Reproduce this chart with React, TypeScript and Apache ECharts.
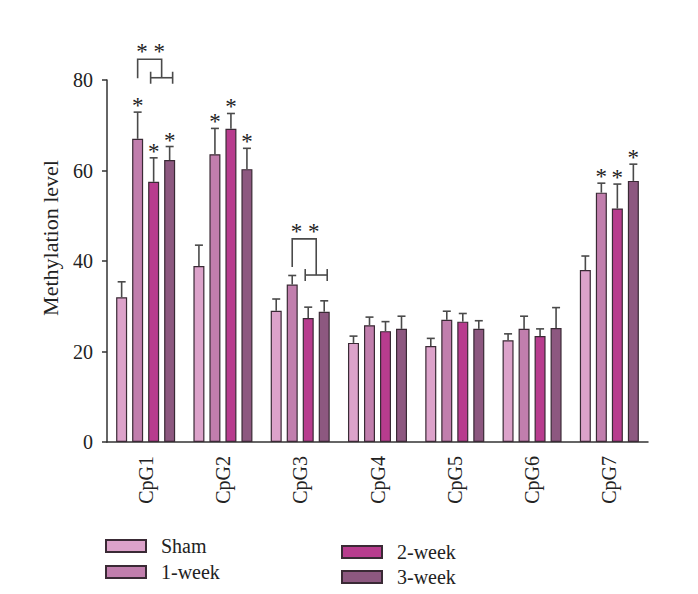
import React, { useEffect, useRef } from "react";
import * as echarts from "echarts";

const categories = ["CpG1", "CpG2", "CpG3", "CpG4", "CpG5", "CpG6", "CpG7"];
const seriesNames = ["Sham", "1-week", "2-week", "3-week"];
const sham = [32.0, 38.9, 29.0, 21.9, 21.2, 22.5, 38.0];
const shamErr = [3.4, 4.6, 2.6, 1.5, 1.7, 1.4, 3.1];
const week1 = [67.0, 63.6, 34.8, 25.8, 27.0, 25.0, 55.1];
const week1Err = [5.9, 5.7, 2.0, 1.8, 1.9, 2.8, 2.1];
const week2 = [57.5, 69.2, 27.4, 24.5, 26.6, 23.4, 51.6];
const week2Err = [5.3, 3.4, 2.4, 2.1, 1.8, 1.6, 5.4];
const week3 = [62.3, 60.3, 28.8, 25.0, 25.0, 25.2, 57.7];
const week3Err = [3.0, 4.6, 2.4, 2.8, 1.8, 4.5, 3.7];
const shamStar = [0, 0, 0, 0, 0, 0, 0];
const week1Star = [1, 1, 0, 0, 0, 0, 1];
const week2Star = [1, 1, 0, 0, 0, 0, 1];
const week3Star = [1, 1, 0, 0, 0, 0, 1];
// brackets: [category index, top y, left leg bottom y, H-bar y]
const brackets = [
  [0, 84.6, 80.4, 80.5],
  [2, 44.9, 38.7, 36.9],
];
const yTicks = { min: 0, max: 80, interval: 20 };

const colors = ["#dca2ca", "#c17ead", "#b83c8e", "#8d5880"];
const FONT = "Liberation Serif";
const BAR_W = 11;
const BAR_STEP = 16;

export default function App() {
  const ref = useRef<HTMLDivElement>(null);
  useEffect(() => {
    if (!ref.current) return;
    const chart = echarts.init(ref.current, undefined, { renderer: "svg" });
    const vals = [sham, week1, week2, week3];
    const errs = [shamErr, week1Err, week2Err, week3Err];
    const stars = [shamStar, week1Star, week2Star, week3Star];

    const barSeries = seriesNames.map((name, i) => ({
      name,
      type: "bar",
      data: vals[i],
      barWidth: BAR_W,
      barGap: "45.5%",
      itemStyle: { color: colors[i], borderColor: "#3a2a35", borderWidth: 1.2 },
      z: 2,
    }));

    const starStyle = (text: string) => ({
      text,
      fill: "#222",
      font: `23px '${FONT}'`,
      align: "center",
      verticalAlign: "bottom",
    });

    const errSeries = seriesNames.map((name, i) => ({
      type: "custom",
      name: name + "-err",
      data: vals[i].map((v, j) => [j, v, errs[i][j], stars[i][j]]),
      z: 3,
      silent: true,
      renderItem: (params: any, api: any) => {
        const cat = api.value(0);
        const v = api.value(1);
        const e = api.value(2);
        const s = api.value(3);
        const x = api.coord([cat, 0])[0] + (i - 1.5) * BAR_STEP;
        const yv = api.coord([cat, v])[1];
        const ye = api.coord([cat, v + e])[1];
        const st = { stroke: "#4a4a4a", lineWidth: 1.6 };
        const children: any[] = [
          { type: "line", shape: { x1: x, y1: yv, x2: x, y2: ye }, style: st },
          { type: "line", shape: { x1: x - 4, y1: ye, x2: x + 4, y2: ye }, style: st },
        ];
        if (s) {
          children.push({ type: "text", x: x, y: ye + 5, style: starStyle("*") });
        }
        return { type: "group", children };
      },
    }));

    const bracketSeries = {
      type: "custom",
      name: "brackets",
      data: brackets,
      z: 3,
      silent: true,
      renderItem: (params: any, api: any) => {
        const cat = api.value(0);
        const cx = api.coord([cat, 0])[0];
        const xL = cx - 0.5 * BAR_STEP;
        const x2 = cx + 0.5 * BAR_STEP;
        const x3 = cx + 1.5 * BAR_STEP;
        const xR = (x2 + x3) / 2;
        const yT = api.coord([cat, api.value(1)])[1];
        const yL = api.coord([cat, api.value(2)])[1];
        const yH = api.coord([cat, api.value(3)])[1];
        const st = { stroke: "#4a4a4a", lineWidth: 1.6 };
        return {
          type: "group",
          children: [
            { type: "polyline", shape: { points: [[xL, yL], [xL, yT], [xR, yT], [xR, yH]] }, style: { ...st, fill: null } },
            { type: "line", shape: { x1: x2 - 3, y1: yH, x2: x3 + 3, y2: yH }, style: st },
            { type: "line", shape: { x1: x2 - 3, y1: yH - 6, x2: x2 - 3, y2: yH + 6 }, style: st },
            { type: "line", shape: { x1: x3 + 3, y1: yH - 6, x2: x3 + 3, y2: yH + 6 }, style: st },
            { type: "text", x: (xL + xR) / 2 + 1, y: yT + 4, style: starStyle("* *") },
          ],
        };
      },
    };

    const legendText = { fontFamily: FONT, fontSize: 20, color: "#222", lineHeight: 12, padding: [0, 0, 0, 10] };
    const legendPos: [string, number, number][] = [
      ["Sham", 105, 536],
      ["1-week", 105, 562],
      ["2-week", 341, 542],
      ["3-week", 341, 567],
    ];
    const legends = legendPos.map(([n, l, t]) => ({
      data: [n],
      orient: "vertical",
      left: l,
      top: t,
      padding: 0,
      icon: "rect",
      itemWidth: 40,
      itemHeight: 12,
      textStyle: legendText,
      selectedMode: false,
    }));

    chart.setOption({
      animation: false,
      backgroundColor: "#ffffff",
      textStyle: { fontFamily: FONT },
      grid: { left: 107, right: 50, top: 80, bottom: 152, containLabel: false },
      legend: legends,
      xAxis: {
        type: "category",
        data: categories,
        axisLine: { lineStyle: { color: "#333", width: 1.5 } },
        axisTick: { alignWithLabel: true, length: 5, lineStyle: { color: "#333", width: 1.5 } },
        axisLabel: { rotate: 90, interval: 0, margin: 14, fontFamily: FONT, fontSize: 20, color: "#222" },
      },
      yAxis: {
        type: "value",
        min: yTicks.min,
        max: yTicks.max,
        interval: yTicks.interval,
        name: "Methylation level",
        nameLocation: "middle",
        nameGap: 46,
        nameTextStyle: { fontFamily: FONT, fontSize: 22, color: "#222", padding: [0, 0, 0, 46] },
        splitLine: { show: false },
        axisLine: { show: true, lineStyle: { color: "#333", width: 1.5 } },
        axisTick: { show: true, length: 5, lineStyle: { color: "#333", width: 1.5 } },
        axisLabel: { margin: 14, fontFamily: FONT, fontSize: 20, color: "#222" },
      },
      series: [...barSeries, ...errSeries, bracketSeries],
    });
    return () => chart.dispose();
  }, []);
  return <div ref={ref} style={{ width: 698, height: 594, position: "absolute", left: 0, top: 0 }} />;
}
